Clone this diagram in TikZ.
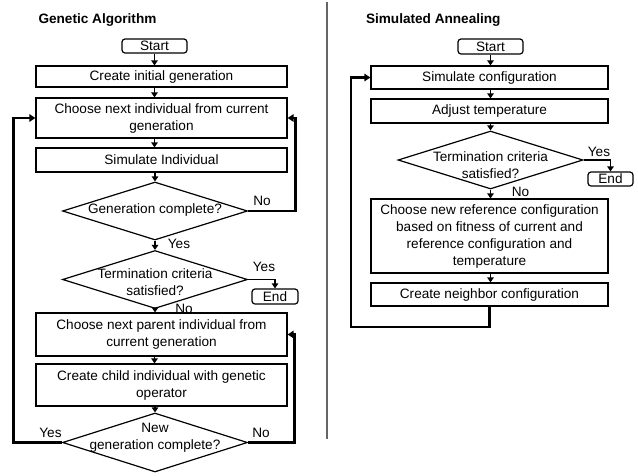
\documentclass[tikz,border=0pt]{standalone}
\usepackage{fontspec}
\setmainfont{Liberation Sans}
\usetikzlibrary{positioning, shapes.geometric, arrows.meta}

\begin{document}
\begin{tikzpicture}[
    x=1pt, y=-1pt,
    font=\fontsize{13.6pt}{17pt}\selectfont,
    step box/.style={draw, line width=1.2pt, align=center, inner sep=2pt, minimum width=251pt},
    terminal/.style={draw, line width=1.2pt, rounded corners=3pt, inner sep=1pt},
    decision/.style={draw, diamond, line width=1.2pt, inner sep=0pt, minimum width=185pt, minimum height=58pt},
    flow/.style={line width=1.6pt, -{Triangle[length=5pt,width=6.5pt]}},
    loop/.style={line width=2.6pt, line join=miter, -{Triangle[length=6pt,width=7.5pt]}},
    answer/.style={inner sep=0pt}
]

% Page size
\useasboundingbox (0,0) rectangle (638,475);

% Titles and separator
\node[anchor=west, font=\fontsize{13.6pt}{17pt}\selectfont\bfseries] (titleL) at (35,20) {Genetic Algorithm};
\node[anchor=west, font=\fontsize{13.6pt}{17pt}\selectfont\bfseries] (titleR) at (362.5,20) {Simulated Annealing};
\draw[line width=1.5pt, gray!80!black] (327,2) -- (327,439);

% Genetic algorithm
\node[terminal, minimum width=65pt, minimum height=14pt] (startL) at (154.5,46) {Start};
\node[step box, minimum height=21pt] (init) at (161.5,76.5) {Create initial generation};
\node[step box, minimum height=40pt] (choose) at (161.5,118) {Choose next individual from current\\generation};
\node[step box, minimum height=24pt] (simind) at (161.5,160) {Simulate Individual};
\node[decision] (gencomp) at (155,211) {};
\node[align=center] (gencompT) at (155,210) {Generation complete?};
\node[decision] (termL) at (155,279.5) {};
\node[align=center] (termLT) at (155,282) {Termination criteria\\satisfied?};
\node[terminal, minimum width=46pt, minimum height=15pt] (endL) at (275,296.5) {End};
\node[step box, minimum height=43pt] (parent) at (161.5,334.5) {Choose next parent individual from\\current generation};
\node[step box, minimum height=42pt] (child) at (161.5,385) {Create child individual with genetic\\operator};
\node[decision, minimum height=59pt] (newgen) at (155,442.5) {};
\node[align=center] (newgenT) at (155,438) {New\\generation complete?};

\draw[flow] (startL.south) -- (startL.south |- init.north);
\foreach \a/\b in {init/choose, choose/simind, parent/child} {
    \draw[flow] (\a.south -| startL) -- (\b.north -| startL);
}
\draw[flow] (simind.south -| gencomp) -- (gencomp.north);
\draw[flow] (gencomp.south) -- (termL.north);
\draw[flow] (termL.south) -- (termL.south |- parent.north);
\draw[flow] (child.south -| newgen) -- (newgen.north);
\draw[flow] (termL.east) -| (endL.north);

% loop backs
\draw[loop] (gencomp.east) -- ++(47.5,0) |- (choose.east);
\draw[loop] (newgen.east) -- ++(46.5,0) |- (parent.east);
\draw[loop] (newgen.west) -- ++(-48.5,0) |- (choose.west);

\node[answer] (noA) at (262,201) {No};
\node[answer] (yesA) at (179,244) {Yes};
\node[answer] (yesB) at (264,267) {Yes};
\node[answer] (noB) at (184,309) {No};
\node[answer] (yesC) at (50.5,433) {Yes};
\node[answer] (noC) at (261,433) {No};

% Simulated annealing
\node[terminal, minimum width=65pt, minimum height=15pt] (startR) at (490.5,46.5) {Start};
\node[step box, minimum width=237pt, minimum height=23pt] (simconf) at (489.5,77.5) {Simulate configuration};
\node[step box, minimum width=237pt, minimum height=24pt] (adjust) at (489.5,111) {Adjust temperature};
\node[decision] (termR) at (490.5,160) {};
\node[align=center] (termRT) at (490.5,165) {Termination criteria\\satisfied?};
\node[terminal, minimum width=45pt, minimum height=14pt] (endR) at (610.5,179) {End};
\node[step box, minimum width=237pt, minimum height=74pt] (choosenew) at (489.5,236)
    {Choose new reference configuration\\based on fitness of current and\\reference configuration and\\temperature};
\node[step box, minimum width=237pt, minimum height=23pt] (neighbor) at (489.5,294.5) {Create neighbor configuration};

\draw[flow] (startR.south) -- (startR.south |- simconf.north);
\draw[flow] (simconf.south -| startR) -- (adjust.north -| startR);
\draw[flow] (adjust.south -| termR) -- (termR.north);
\draw[flow] (termR.south) -- (termR.south |- choosenew.north);
\draw[flow] (choosenew.south -| termR) -- (neighbor.north -| termR);
\draw[flow] (termR.east) -| (endR.north);

\coordinate (backR) at (351,327);
\draw[loop] (neighbor.south) |- (backR) |- (simconf.west);

\node[answer] (yesR) at (599,152) {Yes};
\node[answer] (noR) at (520.5,192) {No};

\end{tikzpicture}
\end{document}
